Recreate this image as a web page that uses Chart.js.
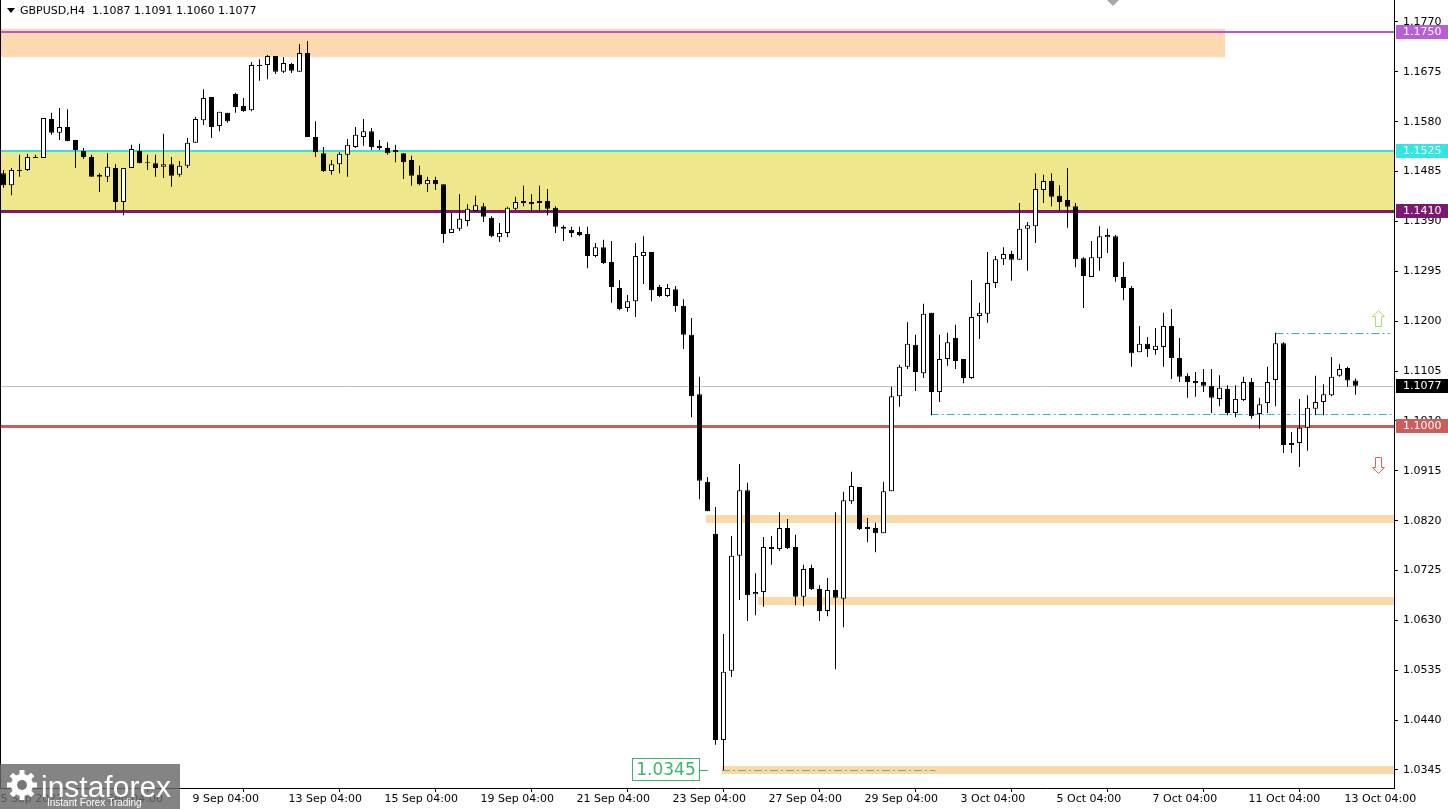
<!DOCTYPE html>
<html>
<head>
<meta charset="utf-8">
<title>GBPUSD,H4</title>
<script src="https://cdn.jsdelivr.net/npm/chart.js@4.4.0/dist/chart.umd.min.js"></script>
<style>
    html, body { margin: 0; padding: 0; background: #ffffff; }
    canvas { display: block; }
</style>
</head>
<body>
<canvas id="chart" width="1448" height="809"></canvas>
<script>
// --- data ---
const symbolTitle = "GBPUSD,H4";
const lastQuote = ["1.1087", "1.1091", "1.1060", "1.1077"];

const opens = [
    1.1482, 1.1459, 1.1486, 1.1488, 1.1511, 1.1511, 1.1585, 1.1559, 1.1570, 1.1545,
    1.1524, 1.1513, 1.1479, 1.1475, 1.1492, 1.1427, 1.1492, 1.1524, 1.1503, 1.1501,
    1.1494, 1.1499, 1.1479, 1.1496, 1.1540, 1.1583, 1.1627, 1.1572, 1.1597, 1.1633,
    1.1610, 1.1602, 1.1686, 1.1688, 1.1705, 1.1675, 1.1690, 1.1675, 1.1711, 1.1551,
    1.1520, 1.1486, 1.1499, 1.1517, 1.1532, 1.1551, 1.1562, 1.1534, 1.1530, 1.1526,
    1.1520, 1.1507, 1.1479, 1.1461, 1.1469, 1.1461, 1.1368, 1.1376, 1.1391, 1.1410,
    1.1419, 1.1397, 1.1360, 1.1368, 1.1414, 1.1429, 1.1427, 1.1425, 1.1429, 1.1416,
    1.1380, 1.1374, 1.1370, 1.1366, 1.1324, 1.1341, 1.1313, 1.1263, 1.1225, 1.1238,
    1.1324, 1.1332, 1.1265, 1.1248, 1.1261, 1.1229, 1.1174, 1.1061, 1.0894, 1.0795,
    1.0402, 1.0534, 1.0753, 1.0878, 1.0680, 1.0684, 1.0766, 1.0766, 1.0806, 1.0770,
    1.0675, 1.0730, 1.0690, 1.0648, 1.0688, 1.0671, 1.0857, 1.0884, 1.0804, 1.0806,
    1.0796, 1.0876, 1.1057, 1.1113, 1.1155, 1.1101, 1.1216, 1.1065, 1.1128, 1.1168,
    1.1128, 1.1092, 1.1210, 1.1214, 1.1273, 1.1318, 1.1328, 1.1317, 1.1376, 1.1381,
    1.1450, 1.1467, 1.1439, 1.1431, 1.1419, 1.1320, 1.1284, 1.1320, 1.1360, 1.1362,
    1.1284, 1.1263, 1.1141, 1.1157, 1.1145, 1.1151, 1.1191, 1.1130, 1.1096, 1.1086,
    1.1084, 1.1077, 1.1052, 1.1071, 1.1025, 1.1050, 1.1084, 1.1023, 1.1044, 1.1088,
    1.1158, 1.0964, 1.0968, 1.0997, 1.1033, 1.1046, 1.1059, 1.1096, 1.1111, 1.1087,
];

const highs = [
    1.1488, 1.1492, 1.1517, 1.1519, 1.1517, 1.1587, 1.1597, 1.1606, 1.1604, 1.1545,
    1.1530, 1.1517, 1.1482, 1.1520, 1.1499, 1.1492, 1.1536, 1.1538, 1.1517, 1.1517,
    1.1557, 1.1513, 1.1505, 1.1549, 1.1589, 1.1642, 1.1627, 1.1599, 1.1597, 1.1635,
    1.1625, 1.1694, 1.1699, 1.1707, 1.1705, 1.1703, 1.1692, 1.1728, 1.1734, 1.1581,
    1.1532, 1.1507, 1.1522, 1.1547, 1.1570, 1.1585, 1.1568, 1.1545, 1.1541, 1.1536,
    1.1520, 1.1515, 1.1496, 1.1475, 1.1475, 1.1461, 1.1406, 1.1442, 1.1423, 1.1439,
    1.1425, 1.1400, 1.1387, 1.1418, 1.1437, 1.1458, 1.1442, 1.1458, 1.1452, 1.1419,
    1.1383, 1.1380, 1.1380, 1.1380, 1.1349, 1.1355, 1.1353, 1.1278, 1.1250, 1.1349,
    1.1362, 1.1332, 1.1269, 1.1271, 1.1267, 1.1242, 1.1206, 1.1094, 1.0903, 1.0846,
    1.0604, 1.0791, 1.0928, 1.0892, 1.0720, 1.0789, 1.0791, 1.0836, 1.0823, 1.0793,
    1.0736, 1.0736, 1.0697, 1.0711, 1.0836, 1.0875, 1.0913, 1.0884, 1.0825, 1.0816,
    1.0894, 1.1075, 1.1117, 1.1198, 1.1174, 1.1233, 1.1216, 1.1174, 1.1178, 1.1193,
    1.1128, 1.1278, 1.1235, 1.1332, 1.1324, 1.1341, 1.1334, 1.1425, 1.1389, 1.1482,
    1.1479, 1.1482, 1.1459, 1.1492, 1.1425, 1.1322, 1.1353, 1.1381, 1.1376, 1.1364,
    1.1313, 1.1267, 1.1191, 1.1170, 1.1187, 1.1216, 1.1223, 1.1168, 1.1101, 1.1103,
    1.1109, 1.1109, 1.1097, 1.1078, 1.1078, 1.1094, 1.1092, 1.1054, 1.1113, 1.1178,
    1.1160, 1.0989, 1.1052, 1.1059, 1.1096, 1.1080, 1.1132, 1.1118, 1.1113, 1.1091,
];

const lows = [
    1.1454, 1.1440, 1.1475, 1.1486, 1.1511, 1.1511, 1.1555, 1.1545, 1.1543, 1.1492,
    1.1509, 1.1475, 1.1446, 1.1465, 1.1408, 1.1402, 1.1492, 1.1501, 1.1488, 1.1475,
    1.1473, 1.1456, 1.1475, 1.1492, 1.1540, 1.1574, 1.1549, 1.1562, 1.1578, 1.1597,
    1.1599, 1.1600, 1.1658, 1.1661, 1.1671, 1.1673, 1.1673, 1.1675, 1.1551, 1.1513,
    1.1484, 1.1479, 1.1482, 1.1475, 1.1530, 1.1534, 1.1526, 1.1526, 1.1517, 1.1503,
    1.1471, 1.1458, 1.1459, 1.1446, 1.1450, 1.1349, 1.1368, 1.1372, 1.1381, 1.1408,
    1.1389, 1.1360, 1.1351, 1.1360, 1.1412, 1.1419, 1.1408, 1.1408, 1.1402, 1.1368,
    1.1353, 1.1360, 1.1362, 1.1301, 1.1322, 1.1309, 1.1235, 1.1221, 1.1218, 1.1208,
    1.1271, 1.1238, 1.1246, 1.1246, 1.1218, 1.1147, 1.1017, 1.0861, 1.0838, 1.0393,
    1.0345, 1.0522, 1.0669, 1.0629, 1.0640, 1.0656, 1.0736, 1.0762, 1.0766, 1.0659,
    1.0657, 1.0688, 1.0629, 1.0638, 1.0537, 1.0617, 1.0852, 1.0802, 1.0779, 1.0760,
    1.0796, 1.0876, 1.1037, 1.1109, 1.1067, 1.1092, 1.1021, 1.1046, 1.1115, 1.1109,
    1.1082, 1.1090, 1.1166, 1.1197, 1.1263, 1.1307, 1.1277, 1.1317, 1.1296, 1.1349,
    1.1425, 1.1419, 1.1410, 1.1378, 1.1303, 1.1225, 1.1284, 1.1296, 1.1330, 1.1275,
    1.1240, 1.1113, 1.1141, 1.1132, 1.1136, 1.1113, 1.1090, 1.1084, 1.1054, 1.1056,
    1.1065, 1.1025, 1.1038, 1.1021, 1.1017, 1.1048, 1.1014, 1.0995, 1.1025, 1.1038,
    1.0949, 1.0949, 1.0922, 1.0953, 1.1021, 1.1021, 1.1057, 1.1094, 1.1075, 1.1060,
];

const closes = [
    1.1459, 1.1488, 1.1488, 1.1513, 1.1513, 1.1587, 1.1559, 1.1570, 1.1543, 1.1526,
    1.1513, 1.1475, 1.1475, 1.1494, 1.1427, 1.1492, 1.1528, 1.1501, 1.1501, 1.1492,
    1.1499, 1.1477, 1.1496, 1.1540, 1.1585, 1.1625, 1.1570, 1.1599, 1.1581, 1.1608,
    1.1600, 1.1688, 1.1688, 1.1705, 1.1675, 1.1692, 1.1677, 1.1711, 1.1551, 1.1522,
    1.1486, 1.1499, 1.1519, 1.1536, 1.1555, 1.1562, 1.1532, 1.1530, 1.1520, 1.1522,
    1.1503, 1.1477, 1.1461, 1.1469, 1.1461, 1.1366, 1.1376, 1.1395, 1.1414, 1.1421,
    1.1399, 1.1362, 1.1368, 1.1416, 1.1427, 1.1425, 1.1423, 1.1429, 1.1414, 1.1380,
    1.1376, 1.1368, 1.1364, 1.1324, 1.1341, 1.1311, 1.1265, 1.1223, 1.1238, 1.1324,
    1.1332, 1.1259, 1.1248, 1.1263, 1.1229, 1.1174, 1.1057, 1.0896, 1.0838, 1.0402,
    1.0532, 1.0753, 1.0878, 1.0678, 1.0684, 1.0770, 1.0770, 1.0806, 1.0768, 1.0675,
    1.0728, 1.0690, 1.0648, 1.0688, 1.0673, 1.0859, 1.0886, 1.0804, 1.0808, 1.0796,
    1.0876, 1.1057, 1.1113, 1.1157, 1.1103, 1.1214, 1.1065, 1.1128, 1.1160, 1.1124,
    1.1092, 1.1208, 1.1216, 1.1273, 1.1318, 1.1328, 1.1317, 1.1376, 1.1383, 1.1452,
    1.1467, 1.1437, 1.1427, 1.1418, 1.1318, 1.1286, 1.1322, 1.1362, 1.1364, 1.1284,
    1.1263, 1.1139, 1.1157, 1.1147, 1.1153, 1.1191, 1.1130, 1.1094, 1.1084, 1.1082,
    1.1077, 1.1054, 1.1073, 1.1025, 1.1052, 1.1084, 1.1019, 1.1042, 1.1084, 1.1158,
    1.0964, 1.0968, 1.0997, 1.1035, 1.1046, 1.1061, 1.1094, 1.1109, 1.1087, 1.1077,
];

// time axis: a label every 12 bars (two trading days of H4)
const timeTickIndex = [0, 12, 24, 36, 48, 60, 72, 84, 96, 108, 120, 132, 144, 156, 168];
const timeTickLabels = [
    "5 Sep 2022", "7 Sep 04:00", "9 Sep 04:00", "13 Sep 04:00", "15 Sep 04:00",
    "19 Sep 04:00", "21 Sep 04:00", "23 Sep 04:00", "27 Sep 04:00", "29 Sep 04:00",
    "3 Oct 04:00", "5 Oct 04:00", "7 Oct 04:00", "11 Oct 04:00", "13 Oct 04:00",
];

const priceTicks = [
    1.0345, 1.0440, 1.0535, 1.0630, 1.0725, 1.0820, 1.0915, 1.1010,
    1.1105, 1.1200, 1.1295, 1.1390, 1.1485, 1.1580, 1.1675, 1.1770,
];

// price levels drawn on the chart
const levelPrices = [1.1750, 1.1525, 1.1410, 1.1000];
const levelColors = ["#BA55D3", "#40E0D0", "#7B1870", "#CD5C5C"];
const levelWidths = [2, 2, 3, 3];
const bidPrice = 1.1077;

// zones [top, bottom, fromBar, toBar]
const supplyZone = [1.1757, 1.1703, -0.5, 152.7];
const keyZone = [1.1525, 1.1410];
// support bands: price and first bar
const bandPrices = [1.0823, 1.0666, 1.0345];
const bandStart = [87.8, 94.3, 89.8];
// dash-dot lines: price, first bar, last bar
const dashPrices = [1.1023, 1.1178, 1.0345];
const dashFrom = [115.9, 159, 89.8];
const dashTo = [173.5, 173.3, 116.5];

const lowMark = 1.0345;

// --- chart ---
const PLOT_RIGHT = 1394;
const BAR_STEP = 8;
const X_MIN = -0.4375;
const X_MAX = X_MIN + PLOT_RIGHT / BAR_STEP;
const Y_MAX = 1.18119;
const Y_MIN = 1.03107;
const FONT = '"DejaVu Sans", sans-serif';

Chart.defaults.font.family = FONT;
Chart.defaults.font.size = 11;
Chart.defaults.color = "#000";

const bodyData = opens.map((o, i) => ({ x: i, y: [o, closes[i]] }));
const wickData = lows.map((l, i) => ({ x: i, y: [l, highs[i]] }));
const bodyColors = opens.map((o, i) => (closes[i] >= o ? "#ffffff" : "#000000"));

function hLine(ctx, y, x1, x2, width, color, dash) {
    ctx.save();
    ctx.strokeStyle = color;
    ctx.lineWidth = width;
    if (dash) ctx.setLineDash(dash);
    const yy = width % 2 ? Math.round(y) + 0.5 : Math.round(y);
    ctx.beginPath();
    ctx.moveTo(x1, yy);
    ctx.lineTo(x2, yy);
    ctx.stroke();
    ctx.restore();
}

// hollow block arrow, up = true points up
function arrow(ctx, cx, cy, up, color) {
    const pts = [[0, -8], [6, -2], [3, -2], [3, 8], [-3, 8], [-3, -2], [-6, -2]];
    const flip = up ? 1 : -1;
    ctx.save();
    ctx.strokeStyle = color;
    ctx.lineWidth = 1;
    ctx.beginPath();
    pts.forEach(([dx, dy], k) => {
        const px = cx + dx + 0.5;
        const py = cy + dy * flip + 0.5;
        if (k === 0) ctx.moveTo(px, py);
        else ctx.lineTo(px, py);
    });
    ctx.closePath();
    ctx.stroke();
    ctx.restore();
}

function gear(ctx, cx, cy, r, teeth, bg) {
    ctx.save();
    ctx.fillStyle = "#ffffff";
    ctx.beginPath();
    ctx.arc(cx, cy, r, 0, Math.PI * 2);
    ctx.fill();
    for (let k = 0; k < teeth; k++) {
        ctx.save();
        ctx.translate(cx, cy);
        ctx.rotate((k * Math.PI * 2) / teeth);
        ctx.fillRect(-2.5, -r - 4, 5, 6);
        ctx.restore();
    }
    ctx.fillStyle = bg;
    ctx.beginPath();
    ctx.arc(cx, cy, r * 0.45, 0, Math.PI * 2);
    ctx.fill();
    ctx.restore();
}

const overlays = {
    id: "overlays",
    beforeDatasetsDraw(chart) {
        const { ctx, chartArea: a } = chart;
        const X = (v) => chart.scales.x.getPixelForValue(v);
        const Y = (v) => chart.scales.y.getPixelForValue(v);
        ctx.save();
        ctx.beginPath();
        ctx.rect(a.left, a.top, a.right - a.left, a.bottom - a.top);
        ctx.clip();

        // supply zone at the top
        ctx.fillStyle = "#FCD9AE";
        ctx.fillRect(X(supplyZone[2]), Y(supplyZone[0]), X(supplyZone[3]) - X(supplyZone[2]), Y(supplyZone[1]) - Y(supplyZone[0]));

        // key zone
        ctx.fillStyle = "#F0E68C";
        ctx.fillRect(a.left, Y(keyZone[0]), a.right - a.left, Y(keyZone[1]) - Y(keyZone[0]));

        // support bands
        bandPrices.forEach((p, k) => hLine(ctx, Y(p), X(bandStart[k]), a.right, 8, "#FAD8A8"));

        // bid line
        hLine(ctx, Y(bidPrice), a.left, a.right, 1, "#C0C0C0");

        // levels
        levelPrices.forEach((p, k) => hLine(ctx, Y(p), a.left, a.right, levelWidths[k], levelColors[k]));

        // dash-dot lines
        dashPrices.forEach((p, k) => {
            const color = k === 2 ? "#5CC45C" : "#3FB0C4";
            hLine(ctx, Y(p), X(dashFrom[k]), X(dashTo[k]), 1, color, [8, 3, 2, 3]);
        });
        ctx.restore();
    },
    afterDraw(chart) {
        const { ctx, chartArea: a } = chart;
        const X = (v) => chart.scales.x.getPixelForValue(v);
        const Y = (v) => chart.scales.y.getPixelForValue(v);
        ctx.save();

        // left frame
        ctx.fillStyle = "#000";
        ctx.fillRect(0, 0, 1, a.bottom);

        // price labels on the axis
        const tags = [
            [levelPrices[0], "#B65FD6"],
            [levelPrices[1], "#33E6E0"],
            [levelPrices[2], levelColors[2]],
            [bidPrice, "#000000"],
            [levelPrices[3], levelColors[3]],
        ];
        ctx.font = "11px " + FONT;
        ctx.textBaseline = "middle";
        ctx.textAlign = "left";
        tags.forEach(([p, color]) => {
            const y = Math.round(Y(p));
            ctx.fillStyle = color;
            ctx.fillRect(a.right + 2, y - 7, 52, 14);
            ctx.fillStyle = "#ffffff";
            ctx.fillText(p.toFixed(4), a.right + 9, y + 0.5);
        });

        // arrows at the right edge
        arrow(ctx, Math.round(X(171.8)), Math.round(Y(1.1206)), true, "#B8D86E");
        arrow(ctx, Math.round(X(171.8)), Math.round(Y(1.0926)), false, "#E06060");

        // low label
        const ly = Math.round(Y(lowMark));
        const lx = Math.round(X(87.06));
        ctx.fillStyle = "#ffffff";
        ctx.fillRect(lx - 68, ly - 12, 68, 23);
        ctx.strokeStyle = "#3CB371";
        ctx.lineWidth = 1;
        ctx.strokeRect(lx - 67.5, ly - 11.5, 67, 22);
        ctx.beginPath();
        ctx.moveTo(lx, ly + 0.5);
        ctx.lineTo(lx + 8, ly + 0.5);
        ctx.stroke();
        ctx.fillStyle = "#3CB371";
        ctx.font = "17px " + FONT;
        ctx.textAlign = "center";
        ctx.fillText(lowMark.toFixed(4), lx - 34, ly + 1);

        // header
        ctx.fillStyle = "#000";
        ctx.beginPath();
        ctx.moveTo(7, 8);
        ctx.lineTo(15, 8);
        ctx.lineTo(11, 13);
        ctx.closePath();
        ctx.fill();
        ctx.font = "11px " + FONT;
        ctx.textAlign = "left";
        ctx.fillText(symbolTitle + "  " + lastQuote.join(" "), 20, 11);

        // chart shift marker
        ctx.fillStyle = "#A8A8A8";
        const mx = Math.round(X(138.7));
        ctx.beginPath();
        ctx.moveTo(mx - 6, 0);
        ctx.lineTo(mx + 6, 0);
        ctx.lineTo(mx, 6);
        ctx.closePath();
        ctx.fill();

        // watermark logo
        const logoBg = "rgba(105, 105, 105, 0.82)";
        ctx.fillStyle = logoBg;
        ctx.fillRect(0, 764, 180, 45);
        gear(ctx, 22, 785, 11, 8, "rgb(118, 118, 118)");
        ctx.fillStyle = "#ffffff";
        ctx.font = '30px "Liberation Sans", sans-serif';
        ctx.textBaseline = "alphabetic";
        ctx.fillText("instaforex", 41, 797);
        ctx.font = '10px "Liberation Sans", sans-serif';
        ctx.fillText("Instant Forex Trading", 47, 806);
        ctx.restore();
    },
};

new Chart(document.getElementById("chart"), {
    type: "bar",
    data: {
        datasets: [
            {
                label: "Body",
                data: bodyData,
                backgroundColor: bodyColors,
                borderColor: "#000000",
                borderWidth: 1,
                borderSkipped: false,
                barThickness: 5,
                minBarLength: 1,
                grouped: false,
                inflateAmount: 0,
            },
            {
                label: "Wick",
                data: wickData,
                backgroundColor: "#000000",
                borderWidth: 0,
                barThickness: 1,
                grouped: false,
                inflateAmount: 0,
            },
        ],
    },
    options: {
        responsive: false,
        maintainAspectRatio: false,
        devicePixelRatio: 1,
        animation: false,
        events: [],
        layout: { padding: 0 },
        plugins: {
            legend: { display: false },
            tooltip: { enabled: false },
        },
        scales: {
            x: {
                type: "linear",
                min: X_MIN,
                max: X_MAX,
                offset: false,
                position: "bottom",
                border: { display: true, color: "#000" },
                grid: {
                    drawOnChartArea: false,
                    drawTicks: true,
                    tickLength: 4,
                    color: "#000",
                },
                ticks: {
                    align: "start",
                    labelOffset: -3,
                    padding: 1,
                    maxRotation: 0,
                    autoSkip: false,
                    color: "#000",
                    font: { size: 11 },
                    callback: (value) => {
                        const k = timeTickIndex.indexOf(value);
                        return k >= 0 ? timeTickLabels[k] : null;
                    },
                },
                afterBuildTicks: (scale) => {
                    scale.ticks = timeTickIndex.map((v) => ({ value: v }));
                },
                afterFit: (scale) => {
                    scale.height = 21;
                    scale.paddingLeft = 0;
                    scale.paddingRight = 0;
                },
            },
            y: {
                type: "linear",
                position: "right",
                min: Y_MIN,
                max: Y_MAX,
                border: { display: true, color: "#000" },
                grid: {
                    drawOnChartArea: false,
                    drawTicks: true,
                    tickLength: 4,
                    color: "#000",
                },
                ticks: {
                    padding: 5,
                    autoSkip: false,
                    color: "#000",
                    font: { size: 11 },
                    callback: (value) => value.toFixed(4),
                },
                afterBuildTicks: (scale) => {
                    scale.ticks = priceTicks.map((v) => ({ value: v }));
                },
                afterFit: (scale) => {
                    scale.width = 1448 - PLOT_RIGHT;
                    scale.paddingTop = 0;
                    scale.paddingBottom = 0;
                },
            },
        },
    },
    plugins: [overlays],
});
</script>
</body>
</html>
